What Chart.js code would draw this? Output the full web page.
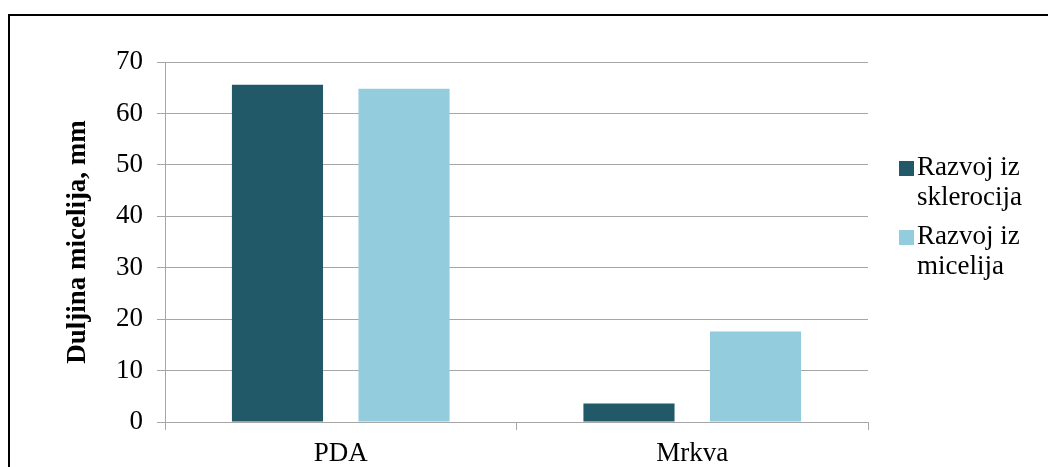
<!DOCTYPE html>
<html>
<head>
<meta charset="utf-8">
<script src="https://cdn.jsdelivr.net/npm/chart.js@4"></script>
<style>
  html, body { margin: 0; padding: 0; background: #fff; }
  #wrap { position: relative; width: 1048px; height: 467px; overflow: hidden; }
  #frame { position: absolute; left: 8px; top: 14px; width: 1100px; height: 500px;
           border-top: 2px solid #000; border-left: 2px solid #000; box-sizing: border-box; }
  #c { position: absolute; left: 0; top: 0; }
</style>
</head>
<body>
<div id="wrap">
  <div id="frame"></div>
  <canvas id="c" width="1048" height="467"></canvas>
</div>
<script>
const categories = ['PDA', 'Mrkva'];
const seriesNames = [['Razvoj iz', 'sklerocija'], ['Razvoj iz', 'micelija']];
const sklerocija = [65.6, 3.6];
const micelija = [64.8, 17.6];
const seriesColors = ['#215968', '#93CDDD'];
const yTicks = [0, 10, 20, 30, 40, 50, 60, 70];
const yTitle = 'Duljina micelija, mm';

const FONT = '"Liberation Serif", "Times New Roman", serif';
const FS = 27;
const GRID = '#a6a6a6';

const legendPlugin = {
  id: 'customLegend',
  afterDraw(chart) {
    const ctx = chart.ctx;
    ctx.save();
    ctx.font = FS + 'px ' + FONT;
    ctx.textBaseline = 'middle';
    ctx.textAlign = 'left';
    const starts = [168, 237];
    chart.data.datasets.forEach((ds, i) => {
      const y0 = starts[i];
      ctx.fillStyle = ds.backgroundColor;
      ctx.fillRect(899, y0 - 7, 15, 15);
      ctx.fillStyle = '#000';
      ds.label.forEach((line, j) => {
        ctx.fillText(line, 917, y0 + j * 30);
      });
    });
    ctx.restore();
  }
};

new Chart(document.getElementById('c'), {
  type: 'bar',
  data: {
    labels: categories,
    datasets: [
      { label: seriesNames[0], data: sklerocija, backgroundColor: seriesColors[0] },
      { label: seriesNames[1], data: micelija, backgroundColor: seriesColors[1] }
    ]
  },
  options: {
    responsive: false,
    animation: false,
    devicePixelRatio: 1,
    layout: { padding: { left: 0, right: 180, top: 62, bottom: 0 } },
    datasets: { bar: { categoryPercentage: 0.72, barPercentage: 0.72 } },
    plugins: {
      legend: { display: false },
      tooltip: { enabled: false }
    },
    scales: {
      x: {
        grid: { offset: true, drawOnChartArea: false, drawTicks: true, tickLength: 8, color: GRID, lineWidth: 1 },
        border: { color: GRID, width: 1 },
        ticks: { font: { family: FONT, size: FS }, color: '#000', padding: 8 },
        afterFit(scale) { scale.height = 45; }
      },
      y: {
        min: 0, max: 70,
        afterBuildTicks(scale) { scale.ticks = yTicks.map(v => ({ value: v })); },
        grid: { color: GRID, lineWidth: 1, tickLength: 8 },
        border: { color: GRID, width: 1 },
        ticks: { font: { family: FONT, size: FS }, color: '#000', padding: 14 },
        title: { display: true, text: yTitle, font: { family: FONT, size: FS, weight: 'bold' }, color: '#000', padding: { top: 62, bottom: 0 } },
        afterFit(scale) { scale.width = 165; }
      }
    }
  },
  plugins: [legendPlugin]
});
</script>
</body>
</html>
